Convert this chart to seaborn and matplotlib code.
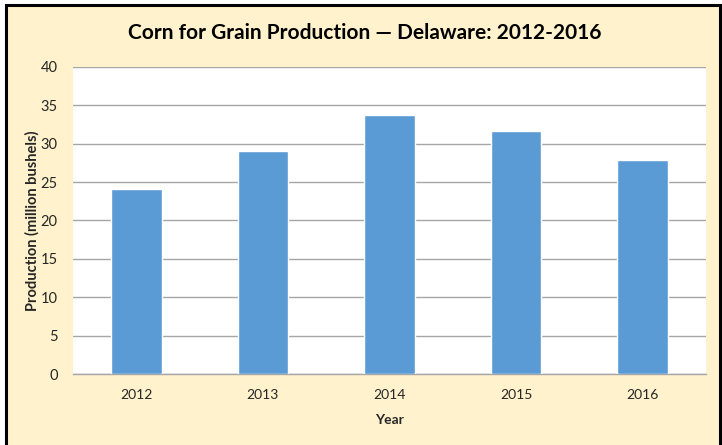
import matplotlib
matplotlib.use("Agg")
import matplotlib.pyplot as plt
import seaborn as sns
import pandas as pd
from matplotlib.patches import Rectangle
from matplotlib.ticker import FixedLocator

# Corn for grain production, Delaware (million bushels)
years = ["2012", "2013", "2014", "2015", "2016"]
production = [24.1, 29.0, 33.7, 31.6, 27.9]

df = pd.DataFrame({"Year": years, "Production": production})

sns.set_style("white")
plt.rcParams["font.family"] = ["Lato", "DejaVu Sans"]

fig = plt.figure(figsize=(7.22, 4.45), dpi=100)
fig.patch.set_facecolor("white")

# chart-area background with frame (drawn behind the axes)
frame = Rectangle((6 / 722, -0.05), 714 / 722, 0.05 + 440 / 445,
                  transform=fig.transFigure, facecolor="#FFF2CC",
                  edgecolor="black", linewidth=2.2, zorder=-10)
fig.patches.append(frame)

ax = fig.add_axes([73 / 722, 71 / 445, 633 / 722, 307.2 / 445])
ax.set_facecolor("white")

sns.barplot(data=df, x="Year", y="Production", color="#5B9BD5",
            width=0.4, saturation=1, ax=ax, zorder=3)

ax.set_ylim(0, 40)
ax.set_xlim(-0.5, 4.5)
ax.set_yticks(range(0, 41, 5))
ax.yaxis.grid(True, color="#A6A6A6", linewidth=1, zorder=0)
ax.set_axisbelow(True)

for s in ["top", "right", "left"]:
    ax.spines[s].set_visible(False)
ax.spines["bottom"].set_color("#A6A6A6")
ax.spines["bottom"].set_linewidth(1)

ax.tick_params(axis="y", length=0, labelsize=10.5, labelcolor="#262626", pad=11)
ax.tick_params(axis="x", which="major", length=0, labelsize=10, labelcolor="#262626", pad=11)
ax.xaxis.set_minor_locator(FixedLocator([-0.5, 0.5, 1.5, 2.5, 3.5, 4.5]))
ax.tick_params(axis="x", which="minor", length=5, color="#A6A6A6", width=1)

ax.set_xlabel("Year", fontsize=10, fontweight="bold", labelpad=9)
ax.set_ylabel("Production (million bushels)", fontsize=10.5, fontweight="bold")
ax.yaxis.set_label_coords(-33 / 633, 0.5)

fig.text(365 / 722, 1 - 33 / 445, "Corn for Grain Production \u2014 Delaware: 2012-2016",
         ha="center", va="center", fontsize=15, fontweight="bold", color="black")

fig.savefig("out.png", dpi=100, facecolor=fig.get_facecolor())
